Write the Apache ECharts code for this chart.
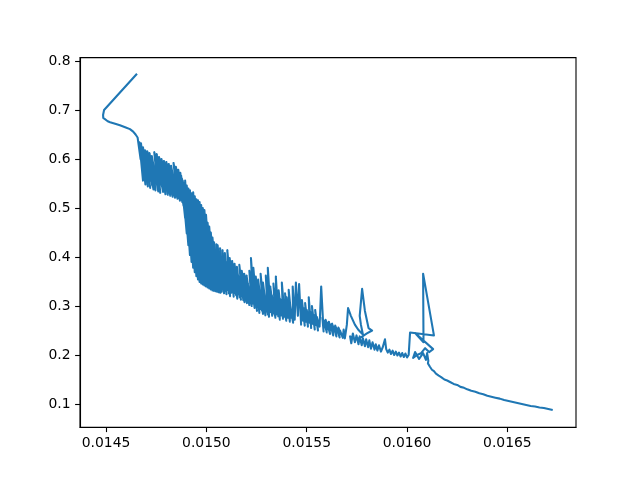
<!DOCTYPE html>
<html>
<head>
<meta charset="utf-8">
<script src="https://cdn.jsdelivr.net/npm/echarts@6/dist/echarts.min.js"></script>
<style>html,body{margin:0;padding:0;background:#fff}#c{width:640px;height:480px}</style>
</head>
<body>
<div id="c"></div>
<script>
const xTicks = [0.0145, 0.0150, 0.0155, 0.0160, 0.0165];
const yTicks = [0.1, 0.2, 0.3, 0.4, 0.5, 0.6, 0.7, 0.8];

const startPath = [[0.014654,0.774],[0.014490,0.700],[0.014485,0.690],[0.014486,0.684],[0.014495,0.680],[0.014508,0.677],[0.014520,0.675],[0.014545,0.672],[0.014569,0.669],[0.014595,0.665],[0.014619,0.661],[0.014635,0.656],[0.014647,0.650],[0.014657,0.644]];

const band1 = [[0.014662,0.640],[0.014672,0.600],[0.014666,0.634],[0.014684,0.556],[0.014670,0.626],[0.014690,0.575],[0.014674,0.632],[0.014696,0.548],[0.014679,0.620],[0.014700,0.566],[0.014684,0.624],[0.014708,0.544],[0.014689,0.605],[0.014712,0.570],[0.014694,0.618],[0.014720,0.541],[0.014700,0.598],[0.014722,0.556],[0.014705,0.616],[0.014730,0.546],[0.014710,0.600],[0.014736,0.538],[0.014716,0.612],[0.014742,0.562],[0.014722,0.596],[0.014746,0.536],[0.014728,0.606],[0.014752,0.550],[0.014734,0.590],[0.014760,0.534],[0.014740,0.614],[0.014766,0.558],[0.014746,0.600],[0.014770,0.531],[0.014752,0.610],[0.014778,0.545],[0.014758,0.592],[0.014784,0.533],[0.014764,0.604],[0.014790,0.552],[0.014770,0.588],[0.014796,0.528],[0.014776,0.600],[0.014802,0.540],[0.014782,0.584],[0.014808,0.527],[0.014788,0.596],[0.014814,0.548],[0.014794,0.580],[0.014820,0.525],[0.014800,0.594],[0.014826,0.536],[0.014806,0.578],[0.014832,0.523],[0.014812,0.590],[0.014838,0.545],[0.014818,0.576],[0.014844,0.521],[0.014824,0.586],[0.014850,0.530],[0.014830,0.570],[0.014856,0.519],[0.014836,0.592],[0.014862,0.540],[0.014842,0.575],[0.014868,0.515],[0.014848,0.584],[0.014874,0.526],[0.014854,0.566],[0.014880,0.512],[0.014860,0.578],[0.014886,0.505],[0.014866,0.560],[0.014890,0.498]];

const band2 = [[0.014870,0.572],[0.014894,0.480],[0.014874,0.566],[0.014898,0.470],[0.014878,0.560],[0.014902,0.448],[0.014882,0.556],[0.014906,0.452],[0.014886,0.552],[0.014910,0.424],[0.014890,0.548],[0.014914,0.430],[0.014894,0.556],[0.014918,0.404],[0.014898,0.540],[0.014922,0.412],[0.014902,0.546],[0.014926,0.390],[0.014906,0.534],[0.014930,0.398],[0.014910,0.540],[0.014934,0.378],[0.014914,0.530],[0.014938,0.386],[0.014918,0.536],[0.014942,0.369],[0.014922,0.524],[0.014946,0.376],[0.014926,0.530],[0.014950,0.361],[0.014930,0.518],[0.014954,0.370],[0.014934,0.532],[0.014958,0.354],[0.014938,0.512],[0.014962,0.364],[0.014942,0.524],[0.014966,0.349],[0.014946,0.505],[0.014970,0.358],[0.014950,0.518],[0.014974,0.346],[0.014954,0.498],[0.014978,0.352],[0.014958,0.516],[0.014982,0.344],[0.014962,0.490],[0.014986,0.350],[0.014966,0.512],[0.014990,0.342],[0.014970,0.485],[0.014994,0.348],[0.014974,0.506],[0.014998,0.340],[0.014978,0.478],[0.015002,0.346],[0.014982,0.500],[0.015006,0.338],[0.014986,0.470],[0.015010,0.344],[0.014990,0.496],[0.015014,0.336],[0.014994,0.460],[0.015018,0.342],[0.014998,0.486],[0.015022,0.334],[0.015002,0.452],[0.015026,0.340],[0.015006,0.470],[0.015030,0.332],[0.015010,0.444],[0.015034,0.338],[0.015014,0.462],[0.015038,0.331],[0.015018,0.436],[0.015042,0.337],[0.015022,0.450],[0.015046,0.330],[0.015026,0.428],[0.015050,0.335],[0.015030,0.440],[0.015054,0.329],[0.015034,0.420],[0.015058,0.334],[0.015038,0.430],[0.015062,0.328],[0.015044,0.414],[0.015066,0.333],[0.015050,0.426],[0.015070,0.327]];

const band3 = [[0.015056,0.424],[0.015076,0.329],[0.015062,0.410],[0.015082,0.334],[0.015068,0.418],[0.015088,0.326],[0.015074,0.400],[0.015094,0.331],[0.015080,0.414],[0.015100,0.324],[0.015086,0.396],[0.015106,0.333],[0.015092,0.408],[0.015112,0.326],[0.015098,0.390],[0.015118,0.320],[0.015104,0.414],[0.015124,0.327],[0.015110,0.384],[0.015130,0.330],[0.015116,0.398],[0.015136,0.319],[0.015122,0.378],[0.015142,0.326],[0.015128,0.392],[0.015148,0.322],[0.015134,0.372],[0.015154,0.315],[0.015140,0.386],[0.015160,0.324],[0.015146,0.366],[0.015166,0.318],[0.015152,0.380],[0.015172,0.313],[0.015158,0.362],[0.015178,0.320],[0.015164,0.384],[0.015184,0.312],[0.015170,0.358],[0.015190,0.308],[0.015176,0.372],[0.015196,0.316],[0.015182,0.352],[0.015202,0.306],[0.015188,0.366],[0.015208,0.311],[0.015194,0.350],[0.015214,0.302],[0.015200,0.362],[0.015220,0.309],[0.015206,0.346],[0.015226,0.300],[0.015214,0.372],[0.015232,0.305],[0.015222,0.398],[0.015240,0.296],[0.015226,0.350],[0.015246,0.302],[0.015234,0.378],[0.015252,0.290],[0.015240,0.342],[0.015258,0.298],[0.015246,0.360],[0.015264,0.286],[0.015252,0.338],[0.015270,0.294],[0.015258,0.354],[0.015276,0.291],[0.015264,0.334],[0.015282,0.284],[0.015270,0.366],[0.015288,0.292],[0.015276,0.330],[0.015294,0.281],[0.015282,0.348],[0.015300,0.289],[0.015288,0.328],[0.015306,0.283],[0.015296,0.362],[0.015312,0.278],[0.015306,0.378],[0.015320,0.288],[0.015312,0.326],[0.015328,0.280],[0.015318,0.340],[0.015336,0.285],[0.015326,0.322],[0.015344,0.276],[0.015334,0.346],[0.015350,0.283],[0.015346,0.360],[0.015358,0.279],[0.015352,0.318],[0.015366,0.272],[0.015360,0.332],[0.015374,0.281],[0.015368,0.314],[0.015382,0.274],[0.015376,0.348],[0.015390,0.278],[0.015384,0.312],[0.015398,0.270],[0.015392,0.326],[0.015406,0.276]];

const band4 = [[0.015400,0.318],[0.015416,0.268],[0.015410,0.333],[0.015424,0.276],[0.015418,0.300],[0.015432,0.266],[0.015430,0.340],[0.015440,0.272],[0.015446,0.348],[0.015456,0.280],[0.015462,0.345],[0.015472,0.262],[0.015468,0.300],[0.015482,0.270],[0.015476,0.312],[0.015490,0.260],[0.015484,0.296],[0.015498,0.268],[0.015492,0.306],[0.015506,0.258],[0.015500,0.292],[0.015514,0.266],[0.015510,0.318],[0.015522,0.255],[0.015518,0.288],[0.015532,0.263],[0.015526,0.300],[0.015540,0.252],[0.015534,0.282],[0.015548,0.261],[0.015542,0.292],[0.015556,0.250],[0.015550,0.278],[0.015564,0.258],[0.015572,0.340],[0.015584,0.248],[0.015578,0.276],[0.015592,0.256],[0.015586,0.270],[0.015600,0.246],[0.015594,0.272],[0.015608,0.252],[0.015602,0.266],[0.015616,0.243],[0.015610,0.268],[0.015624,0.250],[0.015618,0.262],[0.015632,0.240],[0.015626,0.264],[0.015640,0.247],[0.015634,0.258],[0.015648,0.238],[0.015642,0.260],[0.015656,0.245],[0.015650,0.254],[0.015664,0.236],[0.015658,0.256],[0.015672,0.242],[0.015666,0.250],[0.015680,0.235]];

const band5 = [[0.015684,0.252],[0.015690,0.234],[0.015700,0.262],[0.015706,0.296],[0.015720,0.280],[0.015740,0.262],[0.015756,0.252],[0.015770,0.246],[0.015780,0.242],[0.015770,0.262],[0.015764,0.280],[0.015776,0.335],[0.015790,0.290],[0.015808,0.255],[0.015826,0.250],[0.015800,0.244],[0.015770,0.236],[0.015740,0.232],[0.015716,0.238],[0.015722,0.224],[0.015730,0.244],[0.015740,0.226],[0.015748,0.240],[0.015758,0.222],[0.015764,0.238],[0.015774,0.220],[0.015780,0.234],[0.015790,0.218],[0.015796,0.232],[0.015806,0.216],[0.015812,0.230],[0.015820,0.213],[0.015828,0.226],[0.015838,0.211],[0.015844,0.222],[0.015852,0.209],[0.015860,0.220],[0.015870,0.207],[0.015878,0.215],[0.015884,0.218],[0.015890,0.232],[0.015896,0.212],[0.015904,0.205],[0.015912,0.211],[0.015920,0.202],[0.015928,0.209],[0.015936,0.200],[0.015944,0.207],[0.015952,0.199],[0.015960,0.205],[0.015968,0.197],[0.015976,0.204],[0.015984,0.196],[0.015992,0.203],[0.016000,0.195],[0.016008,0.200]];

const band6 = [[0.016012,0.204],[0.016015,0.246],[0.016134,0.240],[0.016080,0.366],[0.016082,0.226],[0.016040,0.245],[0.016130,0.212],[0.016110,0.206],[0.016090,0.214],[0.016070,0.204],[0.016050,0.200],[0.016030,0.194],[0.016040,0.206],[0.016060,0.192],[0.016080,0.204],[0.016094,0.190],[0.016100,0.204],[0.016106,0.188],[0.016104,0.183],[0.016110,0.180]];

const tailPath = [[0.016114,0.176],[0.016124,0.170],[0.016134,0.167],[0.016144,0.162],[0.016158,0.158],[0.016170,0.155],[0.016186,0.150],[0.016200,0.148],[0.016214,0.145],[0.016232,0.141],[0.016250,0.139],[0.016266,0.135],[0.016284,0.133],[0.016300,0.130],[0.016320,0.127],[0.016340,0.125],[0.016360,0.122],[0.016380,0.120],[0.016400,0.117],[0.016420,0.115],[0.016440,0.113],[0.016462,0.111],[0.016484,0.108],[0.016506,0.106],[0.016528,0.104],[0.016550,0.102],[0.016572,0.100],[0.016594,0.098],[0.016616,0.096],[0.016638,0.095],[0.016660,0.093],[0.016682,0.092],[0.016704,0.090],[0.016726,0.088]];

const allPoints = [].concat(startPath, band1, band2, band3, band4, band5, band6, tailPath);

const chart = echarts.init(document.getElementById('c'), null, {renderer: 'canvas', width: 640, height: 480});
const font = {fontFamily: 'DejaVu Sans', fontSize: 13.9, color: '#000'};
chart.setOption({
  animation: false,
  backgroundColor: '#fff',
  grid: {left: 80, right: 64, top: 57.6, bottom: 52.8, show: true, borderColor: '#000', borderWidth: 1.1, backgroundColor: 'transparent'},
  xAxis: {
    type: 'value', min: 0.01437, max: 0.016842,
    splitLine: {show: false},
    axisLine: {show: true, onZero: false, lineStyle: {color: '#000', width: 1.1}},
    axisTick: {show: true, length: 4.9, lineStyle: {color: '#000', width: 1.1}, customValues: xTicks},
    axisLabel: Object.assign({margin: 9.5, customValues: xTicks, formatter: v => v.toFixed(4)}, font)
  },
  yAxis: {
    type: 'value', min: 0.0527, max: 0.807,
    splitLine: {show: false},
    axisLine: {show: true, onZero: false, lineStyle: {color: '#000', width: 1.1}},
    axisTick: {show: true, length: 4.9, lineStyle: {color: '#000', width: 1.1}, customValues: yTicks},
    axisLabel: Object.assign({margin: 9.5, customValues: yTicks, formatter: v => v.toFixed(1)}, font)
  },
  series: [{
    type: 'line',
    data: allPoints,
    showSymbol: false,
    symbol: 'none',
    clip: true,
    lineStyle: {color: '#1f77b4', width: 2.08, join: 'round', cap: 'butt'}
  }]
});
</script>
</body>
</html>
